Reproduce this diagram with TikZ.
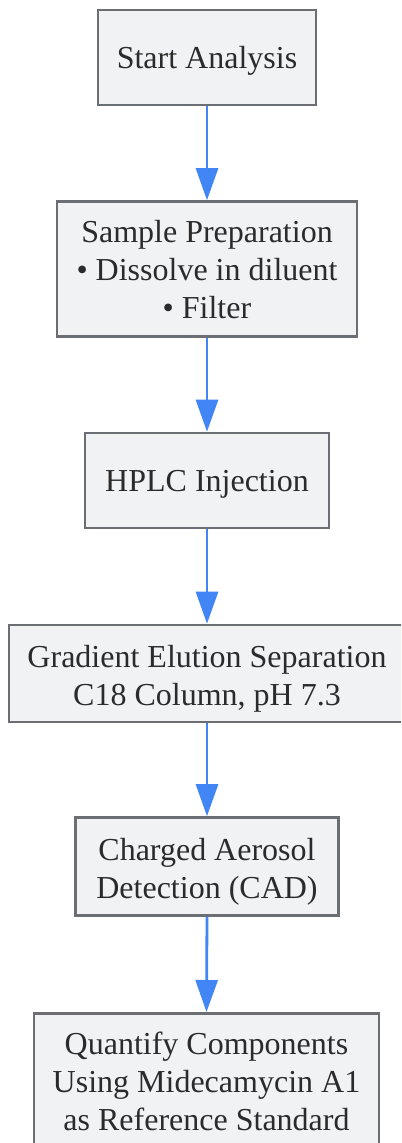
\documentclass[tikz,border=0pt]{standalone}
\usepackage{fontspec}
\setmainfont{Liberation Serif}
\usetikzlibrary{arrows.meta}
\definecolor{boxfill}{HTML}{F1F2F4}
\definecolor{boxdraw}{HTML}{6B6E73}
\definecolor{arrowblue}{HTML}{4285F4}
\definecolor{txt}{HTML}{2B2B2B}
\tikzset{
  stepbox/.style={draw=boxdraw, fill=boxfill, line width=2.6bp, inner sep=0pt,
    align=center, text=txt, font=\fontsize{32bp}{38bp}\selectfont},
  oneline/.style={text height=21bp, text depth=0bp},
  twoline/.style={text height=64bp, text depth=0bp},
  threeline/.style={text height=99bp, text depth=0bp},
  flow/.style={draw=arrowblue, line width=2.8bp, -{Triangle[length=32bp,width=22bp]}}
}
\begin{document}
\begin{tikzpicture}[x=1bp,y=-1bp]
\useasboundingbox (0,0) rectangle (401,1143);
\clip (0,0) rectangle (401,1143);
\node[stepbox, oneline, minimum width=218bp, minimum height=95bp] (a) at (207,57.5) {Start Analysis};
\node[stepbox, threeline, minimum width=300bp, minimum height=135bp] (b) at (207,269) {Sample Preparation\\\textbullet\ Dissolve in diluent\\\textbullet\ Filter};
\node[stepbox, oneline, minimum width=244bp, minimum height=95bp] (c) at (207,480.5) {HPLC Injection};
\node[stepbox, twoline, minimum width=396bp, minimum height=97bp] (d) at (207,673.5) {Gradient Elution Separation\\C18 Column, pH 7.3};
\node[stepbox, twoline, minimum width=263bp, minimum height=98bp] (e) at (207,866.5) {Charged Aerosol\\Detection (CAD)};
\node[stepbox, threeline, minimum width=345bp, minimum height=135bp, anchor=north] (f) at (206.5,1012) {Quantify Components\\Using Midecamycin A1\\as Reference Standard};
\draw[flow] (a.south) -- (b.north);
\draw[flow] (b.south) -- (c.north);
\draw[flow] (c.south) -- (d.north);
\draw[flow] (d.south) -- (e.north);
\draw[flow] (e.south) -- (f.north);
\end{tikzpicture}
\end{document}
